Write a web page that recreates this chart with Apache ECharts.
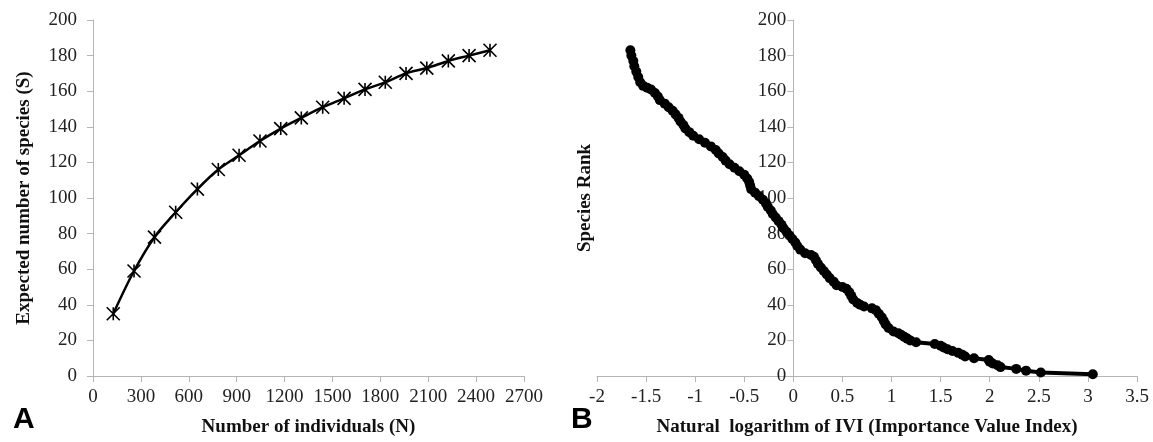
<!DOCTYPE html>
<html>
<head>
<meta charset="utf-8">
<script src="https://cdn.jsdelivr.net/npm/echarts@6/dist/echarts.min.js"></script>
<style>
  html, body { margin: 0; padding: 0; background: #fff; }
  #chart { width: 1153px; height: 442px; }
</style>
</head>
<body>
<div id="chart"></div>
<script>
// panel A: rarefaction curve
const individuals = [127, 257, 385, 518, 654, 785, 915, 1046, 1176, 1305, 1439, 1573, 1704, 1831, 1961, 2091, 2226, 2356, 2487]
const expectedSpecies = [35, 59, 78, 92, 105, 116, 124, 132, 139, 145, 151, 156, 161, 165, 170, 173, 177, 180, 183]

// panel B: rank / log importance value
const lnIVI = [
  -1.66, -1.65, -1.63, -1.62, -1.60, -1.58, -1.56, -1.53, -1.49, -1.45,
  -1.41, -1.38, -1.36, -1.31, -1.27, -1.23, -1.20, -1.17, -1.15, -1.12,
  -1.10, -1.06, -1.02, -0.96, -0.90, -0.84, -0.79, -0.76, -0.72, -0.69,
  -0.65, -0.60, -0.55, -0.50, -0.47, -0.45, -0.44, -0.43, -0.39, -0.35,
  -0.31, -0.28, -0.26, -0.23, -0.21, -0.18, -0.15, -0.12, -0.10, -0.07,
  -0.04, -0.01, 0.02, 0.04, 0.07, 0.12, 0.18, 0.21, 0.23, 0.25,
  0.28, 0.31, 0.34, 0.37, 0.41, 0.44, 0.50, 0.54, 0.57, 0.59,
  0.61, 0.65, 0.68, 0.72, 0.80, 0.84, 0.87, 0.90, 0.92, 0.94,
  0.97, 1.02, 1.07, 1.10, 1.13, 1.16, 1.19, 1.25, 1.44, 1.50,
  1.53, 1.57, 1.62, 1.68, 1.72, 1.75, 1.84, 1.99, 2.00, 2.03,
  2.08, 2.11, 2.27, 2.37, 2.52, 3.05
]
const speciesRank = [
  183, 180, 177, 174, 171, 168, 165, 163, 162, 161,
  159, 157, 155, 153, 151, 149, 147, 145, 143, 141,
  139, 137, 135, 133, 131, 129, 127, 125, 123, 121,
  119, 117, 115, 113, 111, 109, 107, 105, 103, 101,
  99, 97, 95, 93, 91, 89, 87, 85, 83, 81,
  79, 77, 75, 73, 71, 69, 68, 67, 65, 63,
  61, 59, 57, 55, 53, 51, 50, 49, 47, 45,
  43, 41, 40, 39, 38, 37, 35, 33, 31, 29,
  27, 25, 24, 23, 22, 21, 20, 19, 18, 17,
  16, 15, 14, 13, 12, 11, 10, 9, 8, 7,
  6, 5, 4, 3, 2, 1
]

const serif = "'Liberation Serif', 'DejaVu Serif', serif"
const axisGray = '#b5b5b5'
const labelStyle = { fontFamily: serif, fontSize: 19, color: '#222' }
const nameStyle = { fontFamily: serif, fontWeight: 'bold', fontSize: 19, color: '#111' }

const chart = echarts.init(document.getElementById('chart'))

const yCommon = {
  type: 'value',
  min: 0,
  max: 200,
  interval: 20,
  splitLine: { show: false },
  axisLine: { show: true, onZero: false, lineStyle: { color: axisGray, width: 1 } },
  axisTick: { show: true, length: 6, lineStyle: { color: axisGray } },
  nameLocation: 'middle',
  nameRotate: 90,
  nameMoveOverlap: false,
  nameTextStyle: nameStyle
}

const xCommon = {
  type: 'value',
  splitLine: { show: false },
  axisLine: { show: true, onZero: false, lineStyle: { color: axisGray, width: 1 } },
  axisTick: { show: true, length: 6, lineStyle: { color: axisGray } },
  axisLabel: { ...labelStyle, margin: 12, formatter: (v) => String(v) },
  nameLocation: 'middle',
  nameGap: 42,
  nameMoveOverlap: false,
  nameTextStyle: nameStyle
}

// right panel: grid spans -2..3.5, the rank axis sits at x = 0
const gridB = { left: 597, right: 16 }
const gridBWidth = 1153 - gridB.left - gridB.right
const zeroOffset = -gridBWidth * 2 / 5.5

const option = {
  animation: false,
  backgroundColor: '#fff',
  grid: [
    { left: 93, right: 629, top: 20, bottom: 66 },
    { left: gridB.left, right: gridB.right, top: 20, bottom: 66 }
  ],
  xAxis: [
    {
      ...xCommon,
      gridIndex: 0,
      min: 0,
      max: 2700,
      interval: 300,
      name: 'Number of individuals (N)'
    },
    {
      ...xCommon,
      gridIndex: 1,
      min: -2,
      max: 3.5,
      interval: 0.5,
      name: 'Natural  logarithm of IVI (Importance Value Index)'
    }
  ],
  yAxis: [
    {
      ...yCommon,
      gridIndex: 0,
      axisLabel: { ...labelStyle, margin: 16 },
      name: 'Expected number of species (S)',
      nameGap: 59
    },
    {
      ...yCommon,
      gridIndex: 1,
      offset: zeroOffset,
      axisLabel: { ...labelStyle, margin: 7 },
      name: 'Species Rank',
      nameGap: 199
    }
  ],
  series: [
    {
      type: 'line',
      xAxisIndex: 0,
      yAxisIndex: 0,
      smooth: 0.35,
      data: individuals.map((n, i) => [n, expectedSpecies[i]]),
      symbol: 'path://M0,0L10,10M10,0L0,10M5,0L5,10',
      symbolSize: 13,
      showAllSymbol: true,
      lineStyle: { color: '#000', width: 2.5 },
      itemStyle: { color: 'rgba(0,0,0,0)', borderColor: '#000', borderWidth: 1.6 },
      z: 3
    },
    {
      type: 'line',
      xAxisIndex: 1,
      yAxisIndex: 1,
      data: lnIVI.map((v, i) => [v, speciesRank[i]]),
      symbol: 'circle',
      symbolSize: 10,
      showAllSymbol: true,
      lineStyle: { color: '#000', width: 4 },
      itemStyle: { color: '#000' },
      z: 3
    }
  ],
  graphic: [
    {
      type: 'text',
      left: 13,
      top: 405,
      style: { text: 'A', fontFamily: "'Liberation Sans', Arial, sans-serif", fontWeight: 'bold', fontSize: 30, fill: '#000' }
    },
    {
      type: 'text',
      left: 571,
      top: 405,
      style: { text: 'B', fontFamily: "'Liberation Sans', Arial, sans-serif", fontWeight: 'bold', fontSize: 30, fill: '#000' }
    }
  ]
}

chart.setOption(option)

window.addEventListener('resize', () => {
  chart.resize()
})
</script>
</body>
</html>
